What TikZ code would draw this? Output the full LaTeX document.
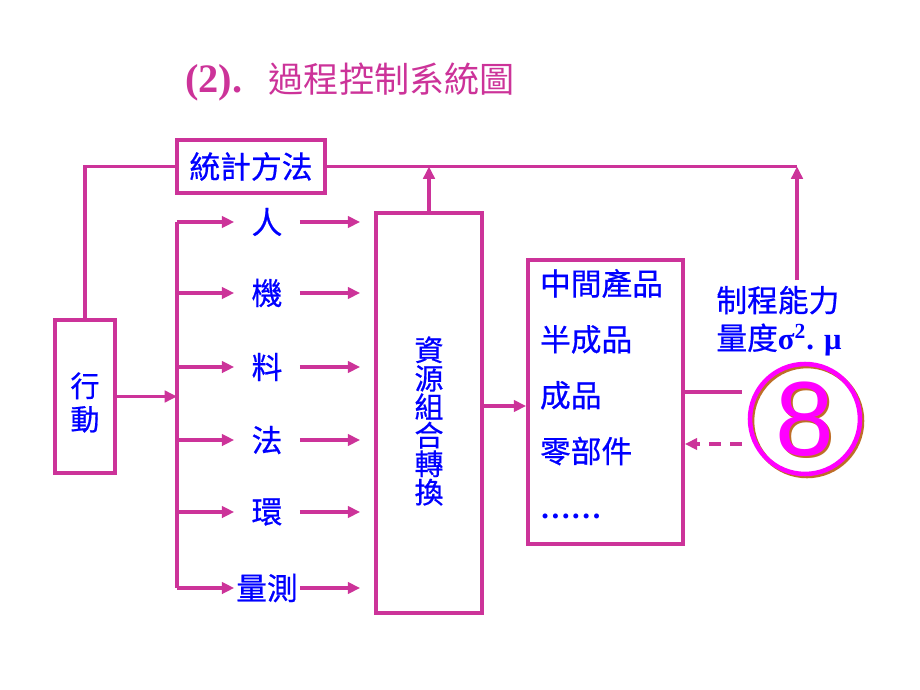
\documentclass[tikz,border=0pt]{standalone}
\usepackage{fontspec}
\setmainfont{Liberation Serif}
\newfontfamily\cjk{Noto Sans CJK TC}[RawFeature={embolden=0.6}]
\newfontfamily\cjktitle{Noto Sans CJK TC}
\newfontfamily\digitfont{Liberation Sans}
\usetikzlibrary{positioning,arrows.meta,calc}
\definecolor{linkpink}{RGB}{204,51,153}
\definecolor{txtblue}{RGB}{0,0,255}
\definecolor{ringmag}{RGB}{255,0,255}
\definecolor{ringshade}{RGB}{190,110,40}

\begin{document}
\begin{tikzpicture}[
  x=0.02cm, y=-0.02cm,
  font=\cjk\fontsize{17.5}{20}\selectfont,
  box/.style={
    rectangle, draw=linkpink, line width=2.2pt, fill=white,
    inner sep=0pt, text=txtblue
  },
  factor/.style={inner sep=0pt, minimum width=1.3cm, text=txtblue},
  link/.style={draw=linkpink, line width=2.2pt},
  arr/.style={link, -{Triangle[length=7pt,width=6.5pt]}},
  dasharr/.style={arr, dash pattern=on 7pt off 5pt},
  lbl/.style={text=txtblue, align=left, inner sep=3pt},
  ring/.style={
    circle, draw=ringmag, line width=2.6pt, minimum size=2.2cm,
    inner sep=0pt, text=ringmag, font=\digitfont\fontsize{60}{60}\selectfont
  }
]
\useasboundingbox (0,0) rectangle (920,690);

% --- Title ---
\node[text=linkpink, font=\cjktitle\fontsize{20}{24}\selectfont] (ttl) at (350,82)
  {{\rmfamily\bfseries\fontsize{23}{24}\selectfont (2).}\hspace{15pt}過程控制系統圖};

% --- Boxes ---
\node[box, minimum width=2.96cm, minimum height=1.06cm] (tj) at (251,166.5) {統計方法};
\node[box, minimum width=1.2cm, minimum height=3.06cm] (xd) at (85,396.5) {};
\node[box, minimum width=2.12cm, minimum height=8cm] (zy) at (429,413) {};
\node[box, minimum width=3.1cm, minimum height=5.68cm] (prod) at (605.5,402) {};

% --- Box texts ---
\node[lbl, align=center, font=\cjk\fontsize{16.5}{19}\selectfont] (xdtxt)
  at ([yshift=-0.12cm]xd) {行\\動};
\node[lbl, align=center, font=\cjk\fontsize{16.5}{16.2}\selectfont] (zytxt)
  at ([yshift=-0.16cm]zy) {資\\源\\組\\合\\轉\\換};
\node[lbl, text width=2.62cm, font=\cjk\fontsize{17.5}{31.8}\selectfont] (prodtxt)
  at ([yshift=0.16cm]prod)
  {中間產品\\半成品\\成品\\零部件\\{\rmfamily\bfseries\ldots\ldots}};

% --- Capability label and circled 8 ---
\node[lbl, font=\cjk\fontsize{17.5}{21.5}\selectfont] (cap) at (779,321)
  {制程能力\\量度{\rmfamily\bfseries σ\textsuperscript{2}. μ}};
\node[ring, draw=ringshade, text=ringshade] (c8s) at (807,421) {8};
\node[ring] (c8) at (805,419) {8};

% --- Helper points ---
\coordinate (bus) at (177,396.5);
\coordinate (corner) at (797,166.5);
\coordinate (outA) at (742,392);
\coordinate (inB) at (742,444);

% --- Feedback loop ---
\draw[link] (xd.north) |- (tj.west);
\draw[link] (tj.east) -- (corner);
\draw[arr] (cap.north -| corner) -- (corner);
\draw[arr] (zy.north) -- (zy.north |- tj.east);

% --- Action to the six factors ---
\draw[arr] (xd.east) -- (bus);
\foreach \name/\txt/\y in {ren/人/222, ji/機/293, liao/料/367, fa/法/440, huan/環/512, lc/量測/588} {
  \node[factor] (\name) at (267,\y) {\txt};
  \draw[arr] (\name -| bus) -- (\name.west);
  \draw[arr, shorten >=0.28cm] (\name.east) -- (\name -| zy.west);
}
\draw[link] (ren -| bus) -- (lc -| bus);

% --- Output side ---
\draw[arr] ([yshift=0.14cm]zy.east) -- ([yshift=0.14cm]zy.east -| prod.west);
\draw[link] (outA -| prod.east) -- (outA);
\draw[dasharr] (inB) -- (inB -| prod.east);

\end{tikzpicture}
\end{document}
